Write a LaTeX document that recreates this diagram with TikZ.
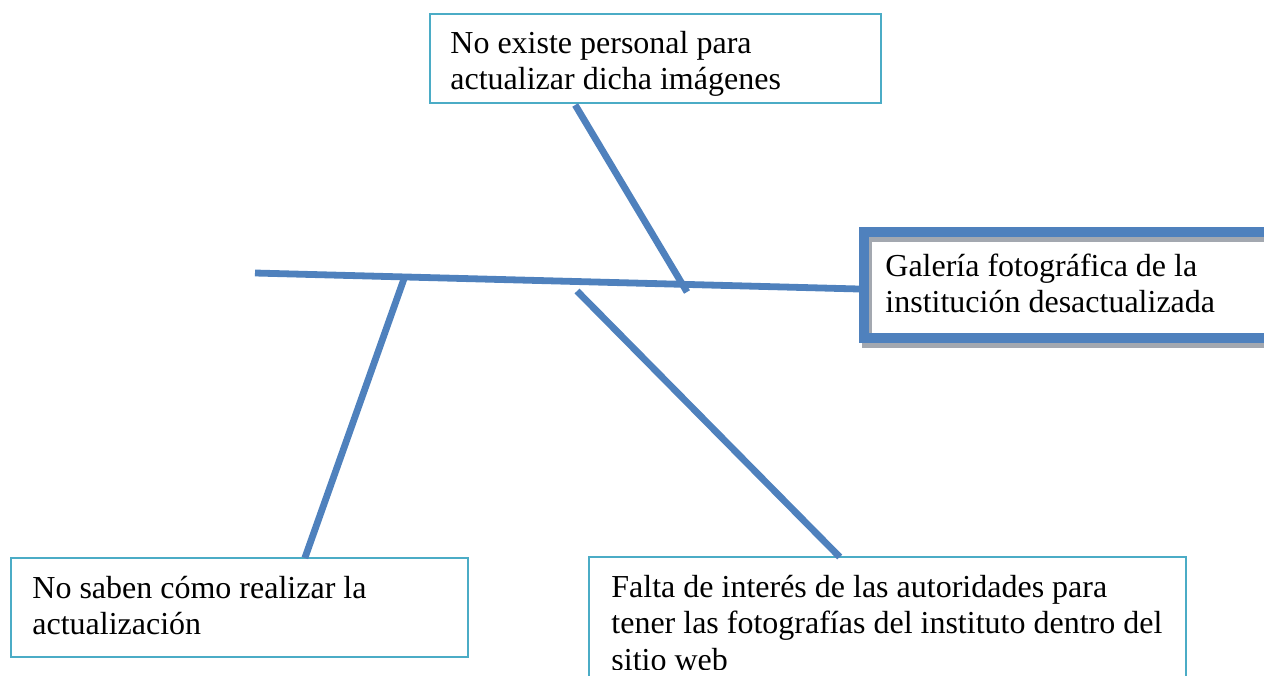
\documentclass[tikz,border=0pt]{standalone}
\usepackage{fontspec}
\setmainfont{Liberation Serif}
\usetikzlibrary{calc}
\definecolor{bonecol}{HTML}{4F81BD}
\definecolor{framecol}{HTML}{4BACC6}
\definecolor{shadecol}{HTML}{A3A8B0}
\tikzset{
  bone/.style={bonecol, line width=3.4pt},
  causebox/.style={draw=framecol, line width=0.9pt, inner sep=0pt, outer sep=0pt, anchor=north west},
  effectbox/.style={draw=bonecol, line width=5pt, inner sep=0pt, outer sep=0pt, anchor=north west},
  causetext/.style={anchor=base west, align=left, inner sep=0pt, font=\fontsize{16}{18.25}\selectfont},
}
\begin{document}
\begin{tikzpicture}[x=0.5pt,y=-0.5pt]
\useasboundingbox (0,0) rectangle (1264,675);
% boxes
\node[causebox, minimum width=225.5pt, minimum height=44.5pt] (nopersonal) at (430,14) {};
\node[causebox, minimum width=228.5pt, minimum height=49.5pt] (nosaben) at (11,558) {};
\node[causebox, minimum width=298.5pt, minimum height=81.5pt] (falta) at (589,557) {};
\draw[shadecol, line width=5pt] (867,237) rectangle (1293,343);
\node[effectbox, minimum width=213pt, minimum height=53pt] (galeria) at (864,232) {};
% texts (base = last line)
\begin{scope}
  \clip (nopersonal.north west) rectangle (nopersonal.south east);
  \node[causetext] (t1) at (450,89.5) {No existe personal para\\actualizar dicha imágenes};
\end{scope}
\node[causetext] (t2) at (32,634.5) {No saben cómo realizar la\\actualización};
\begin{scope}
  \clip (falta.north west) rectangle (1186,669);
  \node[causetext] (t3) at (611,670) {Falta de interés de las autoridades para\\tener las fotografías del instituto dentro del\\sitio web};
\end{scope}
\node[causetext] (t4) at (885,312.5) {Galería fotográfica de la\\institución desactualizada};
% spine and bones
\coordinate (tail) at (255,273);
\coordinate (head) at (859,289);
\coordinate (j1) at (405,276);
\coordinate (j2) at (577,291);
\coordinate (j3) at (687,292);
\draw[bone] (tail) -- (head);
\draw[bone] ($(nopersonal.south west)!0.322!(nopersonal.south east)$) ++(0,2) -- (j3);
\draw[bone] (j1) -- ($(nosaben.north west)!0.643!(nosaben.north east)$);
\draw[bone] (j2) -- ($(falta.north west)!0.42!(falta.north east)$);
\end{tikzpicture}
\end{document}
